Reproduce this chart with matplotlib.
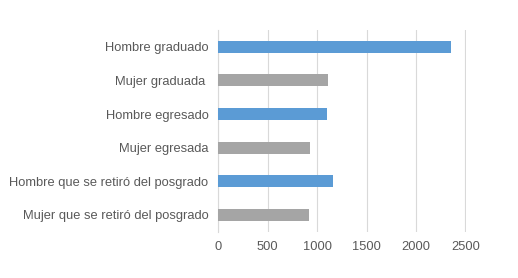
import matplotlib.pyplot as plt

categories = ["Hombre graduado", "Mujer graduada ", "Hombre egresado", "Mujer egresada",
              "Hombre que se retiró del posgrado", "Mujer que se retiró del posgrado"]
values = [2352, 1110, 1100, 925, 1161, 918]
colors = ["#5B9BD5", "#A5A5A5", "#5B9BD5", "#A5A5A5", "#5B9BD5", "#A5A5A5"]
xticks = [0, 500, 1000, 1500, 2000, 2500]

plt.rcParams['font.family'] = ['Liberation Sans', 'DejaVu Sans']

fig = plt.figure(figsize=(5.18, 2.78), dpi=100)
ax = fig.add_axes([0.4214, 0.167, 0.4788, 0.725])

ypos = list(range(len(categories)))[::-1]
ax.barh(ypos, values, height=0.36, color=colors, zorder=3)

ax.set_xlim(0, 2510)
ax.set_ylim(-0.5, len(categories) - 0.5)
ax.set_xticks(xticks)
ax.set_yticks(ypos)
ax.set_yticklabels(categories)
ax.tick_params(axis='both', length=0, labelsize=9.3, colors='#595959')
ax.tick_params(axis='y', pad=7)
ax.tick_params(axis='x', pad=7)

ax.grid(axis='x', color='#D9D9D9', linewidth=0.8, zorder=0)
for s in ['top', 'right', 'bottom']:
    ax.spines[s].set_visible(False)
ax.spines['left'].set_color('#D9D9D9')
ax.spines['left'].set_linewidth(0.8)

fig.savefig("out.png", dpi=100)
